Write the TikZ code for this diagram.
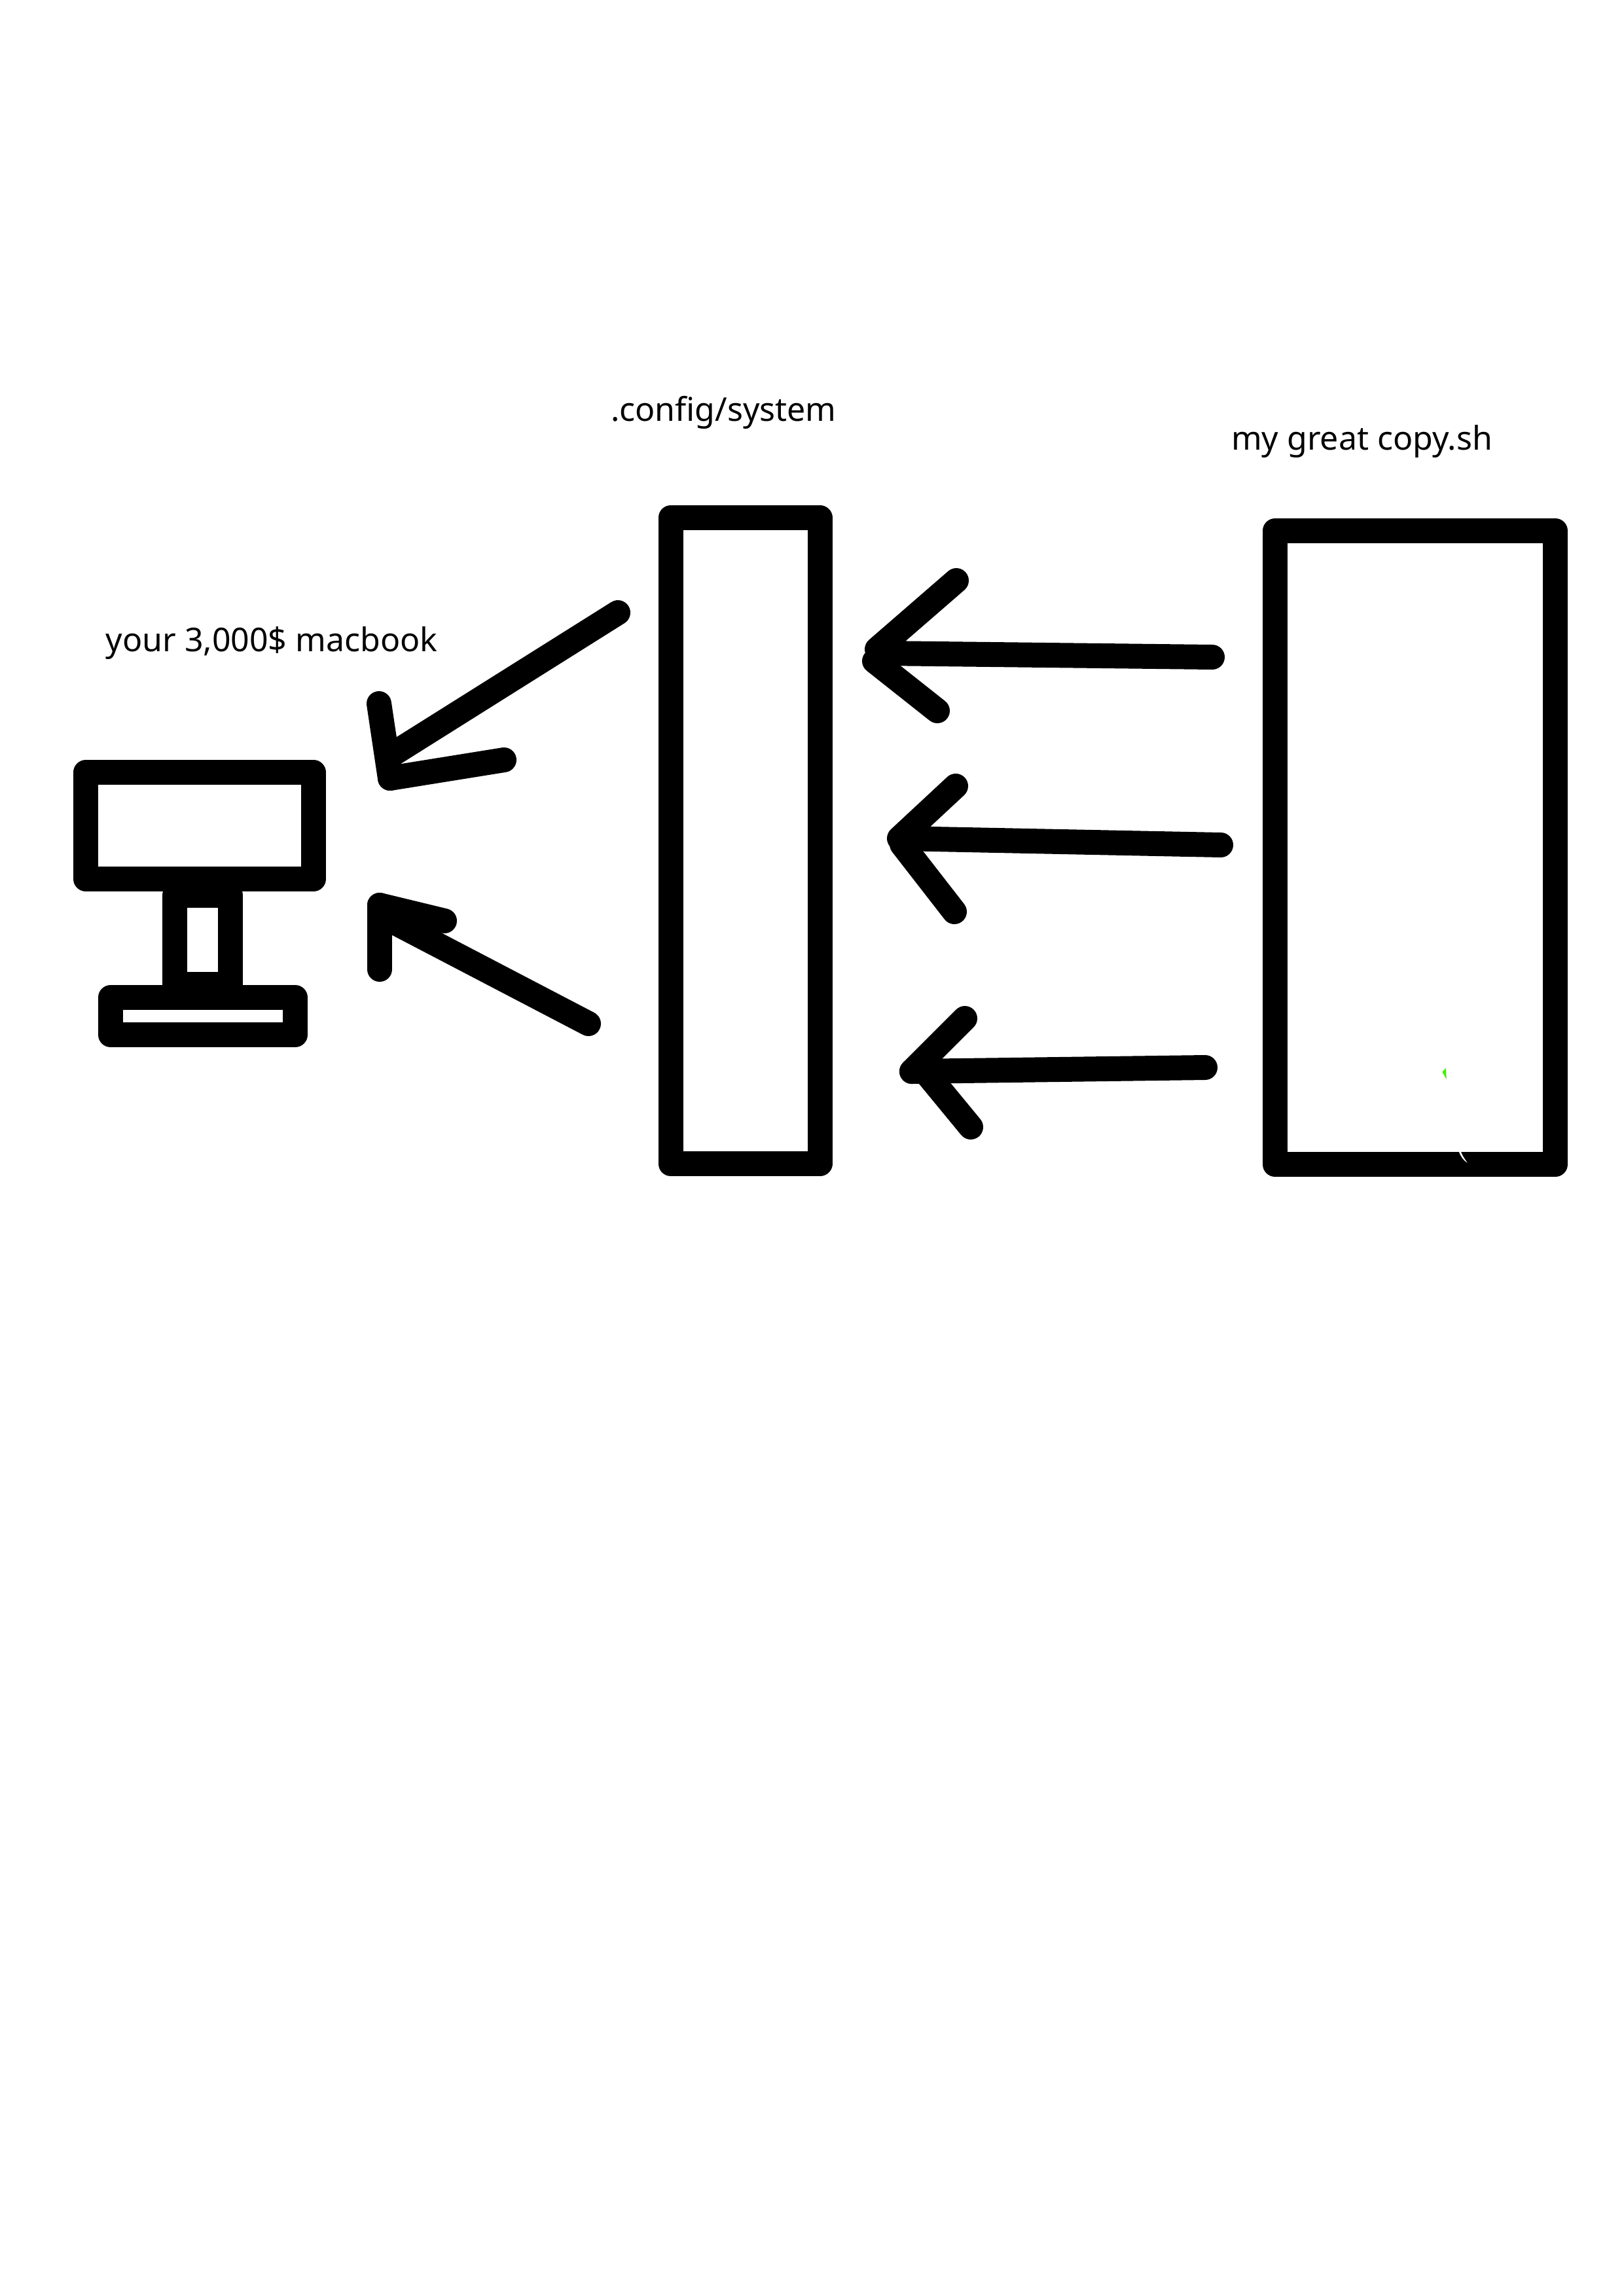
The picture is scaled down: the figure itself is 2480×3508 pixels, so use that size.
\documentclass[tikz,border=0pt]{standalone}
\usepackage{fontspec}
\setmainfont{Noto Sans}
\usetikzlibrary{positioning}
\definecolor{sketchGreen}{RGB}{70,240,10}
\def\px{0.008468cm}
\tikzset{
  pen/.style={line width=38*\px,line cap=round,line join=round},
  sketchbox/.style={draw,pen,rectangle,inner sep=0pt,outer sep=0pt},
  caption/.style={font=\fontsize{12.05}{14}\selectfont,anchor=base,inner sep=0pt}
}

\begin{document}
\begin{tikzpicture}[x=\px,y=-\px]
  \useasboundingbox (0,0) rectangle (2480,3508);
  \node[sketchbox,minimum width=347.5*\px,minimum height=163*\px] (screen) at (305,1261.5) {};
  \node[sketchbox,minimum width=85*\px,minimum height=136*\px] (stand) at (309.5,1436) {};
  \node[sketchbox,minimum width=282*\px,minimum height=57*\px] (foot) at (310,1552.5) {};
  \node[sketchbox,minimum width=228*\px,minimum height=987*\px] (system) at (1138.5,1284.5) {};
  \node[sketchbox,minimum width=428*\px,minimum height=968*\px] (copy) at (2162,1295) {};
  \node[caption] (laptoplab) at (415,995.5) {your 3,000\$ macbook};
  \node[caption] (systemlab) at (1105.5,643) {.config/system};
  \node[caption] (copylab) at (2080.5,687.5) {my great copy.sh};
  % hand drawn arrows: shaft, upper stroke, lower stroke
  \foreach \i/\ptail/\pshaft/\ptop/\ptopend/\plowstart/\plow in {
    a/{944,936}/{594,1156}/{579,1075}/{596,1189}/{596,1189}/{770,1161},
    b/{899,1564}/{585,1400}/{580,1481}/{580,1383}/{580,1383}/{679,1407},
    c/{1852,1004}/{1345,998}/{1461,887}/{1340,992}/{1336,1010}/{1432,1086},
    d/{1865,1291}/{1377,1281}/{1460,1201}/{1374,1281}/{1378,1290}/{1458,1393},
    e/{1841,1631}/{1393,1637}/{1474,1556}/{1393,1637}/{1413,1637}/{1483,1722}}{
    \coordinate (tail\i) at (\ptail);
    \coordinate (shaft\i) at (\pshaft);
    \coordinate (top\i) at (\ptop);
    \coordinate (topend\i) at (\ptopend);
    \coordinate (lowstart\i) at (\plowstart);
    \coordinate (low\i) at (\plow);
    \draw[pen] (tail\i) -- (shaft\i);
    \draw[pen] (top\i) -- (topend\i);
    \draw[pen] (lowstart\i) -- (low\i);
  }
  \fill[sketchGreen] (2203.3,1637.7) -- (2209,1631.7) -- (2209.7,1649) -- cycle;
  \fill[white] (2229,1760) .. controls (2232,1768) and (2236,1773) .. (2241.7,1776.7) .. controls (2238,1771) and (2234,1766) .. (2232,1760) -- cycle;
\end{tikzpicture}
\end{document}
